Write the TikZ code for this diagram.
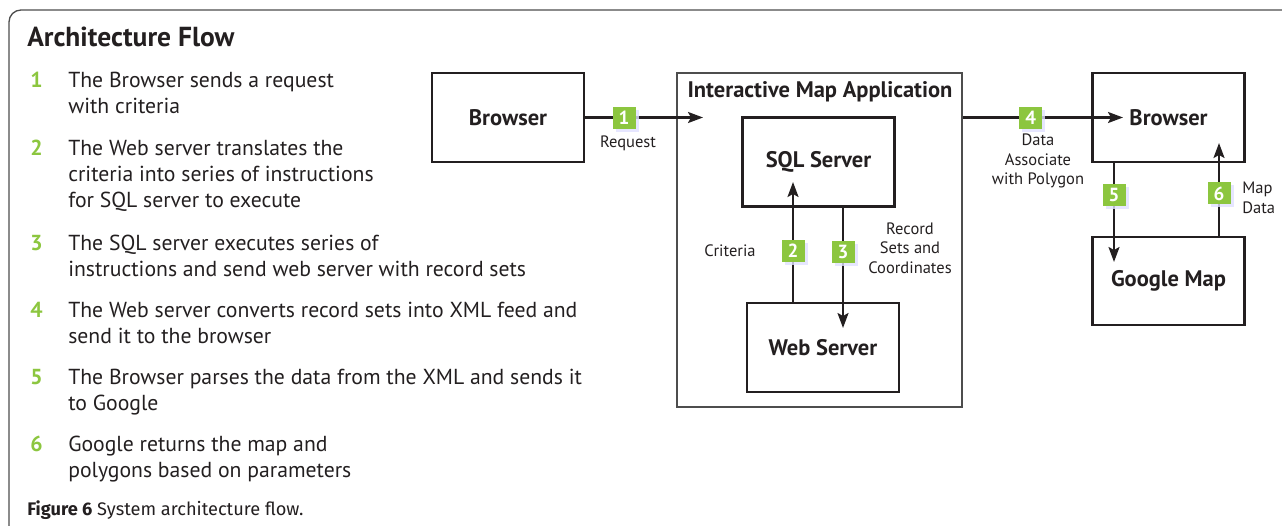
\documentclass[tikz,border=0pt]{standalone}
\usepackage{fontspec}
\setmainfont{PT Sans}
\newfontfamily\capfont{Fira Sans}
\usetikzlibrary{arrows.meta,positioning,shadows}
\definecolor{stepgreen}{HTML}{8CC63F}
\definecolor{inkgray}{HTML}{231F20}
\definecolor{framegray}{HTML}{4D4D4D}

\begin{document}
\begin{tikzpicture}[x=1pt,y=-1pt,>={Stealth[length=15pt,width=11pt,inset=3pt]},semithick,inkgray]
  \tikzstyle{box}=[draw=inkgray,line width=2.4pt,minimum width=152pt,minimum height=89pt,font=\fontsize{22.5}{26}\selectfont\bfseries]
  \tikzstyle{numbox}=[fill=stepgreen,text=white,inner sep=0pt,minimum width=23pt,minimum height=22pt,font=\fontsize{19}{19}\selectfont\bfseries,drop shadow={shadow xshift=3pt,shadow yshift=-3pt,fill=blue!12,opacity=0.8}]
  \tikzstyle{lbl}=[inner sep=0pt,align=center,font=\fontsize{16.5}{19.5}\selectfont]
  \tikzstyle{stepnum}=[anchor=base west,inner sep=0pt,text=stepgreen,font=\fontsize{21.7}{26}\selectfont\bfseries]
  % base of a multi-line node is its last line
  \tikzstyle{steptext}=[anchor=base west,inner sep=0pt,align=left,font=\fontsize{21.7}{26}\selectfont]

  \useasboundingbox (0,0) rectangle (1282,525);
  \clip (0,0) rectangle (1282,525);
  \draw[framegray,line width=1.3pt,rounded corners=12pt] (9,10) rectangle (1310,560);

  % list on the left
  \node[anchor=base west,inner sep=0pt,font=\fontsize{27.5}{30}\selectfont\bfseries] (title) at (27,46) {Architecture Flow};
  \node[stepnum] (s1) at (30,87) {1};
  \node[steptext] (t1) at (68,113) {The Browser sends a request\\with criteria};
  \node[stepnum] (s2) at (30,155) {2};
  \node[steptext] (t2) at (68,207) {The Web server translates the\\criteria into series of instructions\\for SQL server to execute};
  \node[stepnum] (s3) at (30,250) {3};
  \node[steptext] (t3) at (68,276) {The SQL server executes series of\\instructions and send web server with record sets};
  \node[stepnum] (s4) at (30,317) {4};
  \node[steptext] (t4) at (68,343) {The Web server converts record sets into XML feed and\\send it to the browser};
  \node[stepnum] (s5) at (30,384) {5};
  \node[steptext] (t5) at (68,410) {The Browser parses the data from the XML and sends it\\to Google};
  \node[stepnum] (s6) at (30,451) {6};
  \node[steptext] (t6) at (68,477) {Google returns the map and\\polygons based on parameters};
  \node[anchor=base west,inner sep=0pt,font=\capfont\fontsize{18.2}{22}\selectfont] (cap) at (27,515) {\textbf{Figure 6} System architecture flow.};

  % boxes
  \node[box] (brwL) at (508,117.5) {Browser};
  \node[draw=framegray,line width=1.4pt,minimum width=285pt,minimum height=334pt] (app) at (819.5,240) {};
  \node[font=\fontsize{22.5}{26}\selectfont\bfseries,inner sep=0pt] (apptitle) at (820,92) {Interactive Map Application};
  \node[box] (sql) at (818.5,162) {SQL Server};
  \node[box] (web) at (823,347.5) {Web Server};
  \node[box] (brwR) at (1168.5,117.5) {Browser};
  \node[box,minimum height=88pt] (gmap) at (1168.5,281) {Google Map};

  \coordinate (tip1) at (703,117.5);
  \coordinate (tip2) at (793,182);
  \coordinate (tip3) at (843,328);
  \coordinate (tip4) at (1123,117.5);
  \coordinate (tip5) at (1114,262);
  \coordinate (tip6) at (1219,143);

  \path[->,line width=2.2pt]
  (brwL) edge node[numbox,pos=0.33] (n1) {1} (tip1)
  (web.north -| tip2) edge node[numbox,pos=0.426] (n2) {2} (tip2)
  (sql.south -| tip3) edge node[numbox,pos=0.368] (n3) {3} (tip3)
  (app.east |- tip4) edge node[numbox,pos=0.425] (n4) {4} (tip4)
  (brwR.south -| tip5) edge node[numbox,pos=0.32] (n5) {5} (tip5)
  (gmap.north -| tip6) edge node[numbox,pos=0.457] (n6) {6} (tip6);

  \node[lbl] (lreq) at (628,143) {Request};
  \node[lbl] (lcrit) at (730,251) {Criteria};
  \node[lbl] (lrec) at (910,248) {Record\\Sets and\\Coordinates};
  \node[lbl] (ldata) at (1038,161) {Data\\Associate\\with Polygon};
  \node[lbl,align=left,anchor=west] (lmap) at (1242,198) {Map\\Data};
\end{tikzpicture}
\end{document}
